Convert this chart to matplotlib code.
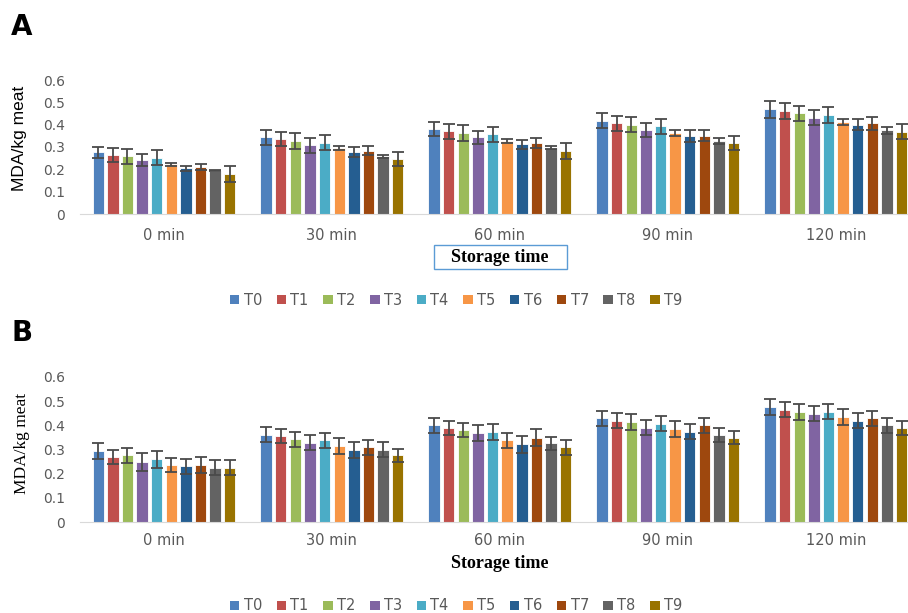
import numpy as np
import matplotlib
matplotlib.use("Agg")
import matplotlib.pyplot as plt
from matplotlib.patches import Patch, Rectangle

times = ["0 min", "30 min", "60 min", "90 min", "120 min"]
treatments = ["T0", "T1", "T2", "T3", "T4", "T5", "T6", "T7", "T8", "T9"]
colors = ["#4F81BD", "#C0504D", "#9BBB59", "#8064A2", "#4BACC6",
          "#F79646", "#255E91", "#9E480E", "#636363", "#997300"]

# panel A: mean MDA per treatment (rows) over storage time (columns)
a_mean = [
    [0.276, 0.343, 0.381, 0.418, 0.469],
    [0.264, 0.337, 0.370, 0.406, 0.461],
    [0.258, 0.327, 0.363, 0.399, 0.451],
    [0.242, 0.307, 0.343, 0.375, 0.431],
    [0.252, 0.319, 0.357, 0.393, 0.443],
    [0.222, 0.294, 0.328, 0.363, 0.412],
    [0.204, 0.276, 0.313, 0.349, 0.400],
    [0.209, 0.284, 0.319, 0.351, 0.406],
    [0.194, 0.258, 0.296, 0.327, 0.375],
    [0.179, 0.246, 0.282, 0.319, 0.369],
]
a_err = [
    [0.025, 0.032, 0.032, 0.035, 0.038],
    [0.033, 0.032, 0.034, 0.034, 0.035],
    [0.033, 0.034, 0.034, 0.034, 0.034],
    [0.026, 0.034, 0.030, 0.031, 0.034],
    [0.034, 0.034, 0.034, 0.034, 0.034],
    [0.008, 0.009, 0.009, 0.013, 0.013],
    [0.011, 0.022, 0.020, 0.026, 0.026],
    [0.014, 0.022, 0.022, 0.025, 0.028],
    [0.003, 0.006, 0.007, 0.014, 0.016],
    [0.034, 0.032, 0.034, 0.031, 0.034],
]

# panel B
b_mean = [
    [0.294, 0.361, 0.400, 0.429, 0.475],
    [0.270, 0.356, 0.389, 0.418, 0.464],
    [0.276, 0.343, 0.382, 0.413, 0.457],
    [0.247, 0.327, 0.367, 0.391, 0.447],
    [0.259, 0.338, 0.373, 0.407, 0.457],
    [0.235, 0.314, 0.338, 0.384, 0.435],
    [0.230, 0.299, 0.321, 0.373, 0.418],
    [0.235, 0.309, 0.349, 0.400, 0.429],
    [0.224, 0.299, 0.325, 0.360, 0.400],
    [0.224, 0.276, 0.309, 0.349, 0.389],
]
b_err = [
    [0.032, 0.031, 0.031, 0.031, 0.032],
    [0.030, 0.030, 0.031, 0.031, 0.031],
    [0.032, 0.031, 0.029, 0.032, 0.033],
    [0.037, 0.031, 0.033, 0.031, 0.031],
    [0.035, 0.032, 0.032, 0.031, 0.032],
    [0.030, 0.032, 0.032, 0.033, 0.033],
    [0.031, 0.034, 0.034, 0.031, 0.031],
    [0.034, 0.030, 0.034, 0.031, 0.031],
    [0.031, 0.031, 0.028, 0.031, 0.031],
    [0.031, 0.028, 0.030, 0.028, 0.028],
]

yticks = [0, 0.1, 0.2, 0.3, 0.4, 0.5, 0.6]
ytick_labels = ["0", "0.1", "0.2", "0.3", "0.4", "0.5", "0.6"]

W, H = 908, 613
fig = plt.figure(figsize=(W / 100, H / 100), dpi=100)


def panel(rect, means, errs, xpad):
    ax = fig.add_axes(rect)
    x = np.arange(len(times))
    pitch = 0.087
    for i in range(len(treatments)):
        ax.bar(x + (i - 4.5) * pitch, means[i], 0.068, color=colors[i],
               edgecolor="white", linewidth=0.6, label=treatments[i])
        ax.errorbar(x + (i - 4.5) * pitch, means[i], yerr=errs[i], fmt="none",
                    ecolor="#4a4a4a", elinewidth=1.3, capsize=4, capthick=1.3)
    ax.set_ylim(0, 0.6)
    ax.set_xlim(-0.5, 4.43)
    ax.set_yticks(yticks)
    ax.set_yticklabels(ytick_labels)
    ax.set_xticks(x)
    ax.set_xticklabels(times)
    for s in ["top", "right", "left"]:
        ax.spines[s].set_visible(False)
    ax.spines["bottom"].set_color("#D9D9D9")
    ax.tick_params(axis="y", length=0, pad=11, labelsize=10, labelcolor="#595959")
    ax.tick_params(axis="x", length=0, pad=xpad, labelsize=10.5, labelcolor="#595959")
    return ax


# panel A
panel([80 / W, 1 - 214 / H, 828 / W, 134 / H], a_mean, a_err, 10)
fig.text(11 / W, 1 - 27 / H, "A", fontsize=20, fontweight="bold", va="center")
fig.text(20 / W, 1 - 138 / H, "MDA/kg meat", rotation=90, ha="center", va="center",
         fontsize=12.5, family="Liberation Sans")
fig.patches.append(Rectangle((434 / W, 1 - 269 / H), 133 / W, 24 / H,
                             transform=fig.transFigure, fc="white", ec="#5B9BD5", lw=1))
fig.text(500 / W, 1 - 257 / H, "Storage time", ha="center", va="center",
         fontsize=13, fontweight="bold", family="Liberation Serif")

# panel B
panel([80 / W, 1 - 522 / H, 828 / W, 145 / H], b_mean, b_err, 8)
fig.text(11 / W, 1 - 333 / H, "B", fontsize=20, fontweight="bold", va="center")
fig.text(22 / W, 1 - 443 / H, "MDA/kg meat", rotation=90, ha="center", va="center",
         fontsize=12.5, family="Liberation Serif")
fig.text(500 / W, 1 - 563 / H, "Storage time", ha="center", va="center",
         fontsize=13, fontweight="bold", family="Liberation Serif")

handles = [Patch(facecolor=c, edgecolor="none") for c in colors]
for ly in [300, 606]:
    fig.legend(handles, treatments, loc="center", bbox_to_anchor=(456 / W, 1 - ly / H),
               ncol=10, frameon=False, fontsize=10.5, handlelength=0.65, handleheight=0.65,
               handletextpad=0.3, columnspacing=1.0, labelcolor="#595959")

fig.savefig("out.png", dpi=100)
